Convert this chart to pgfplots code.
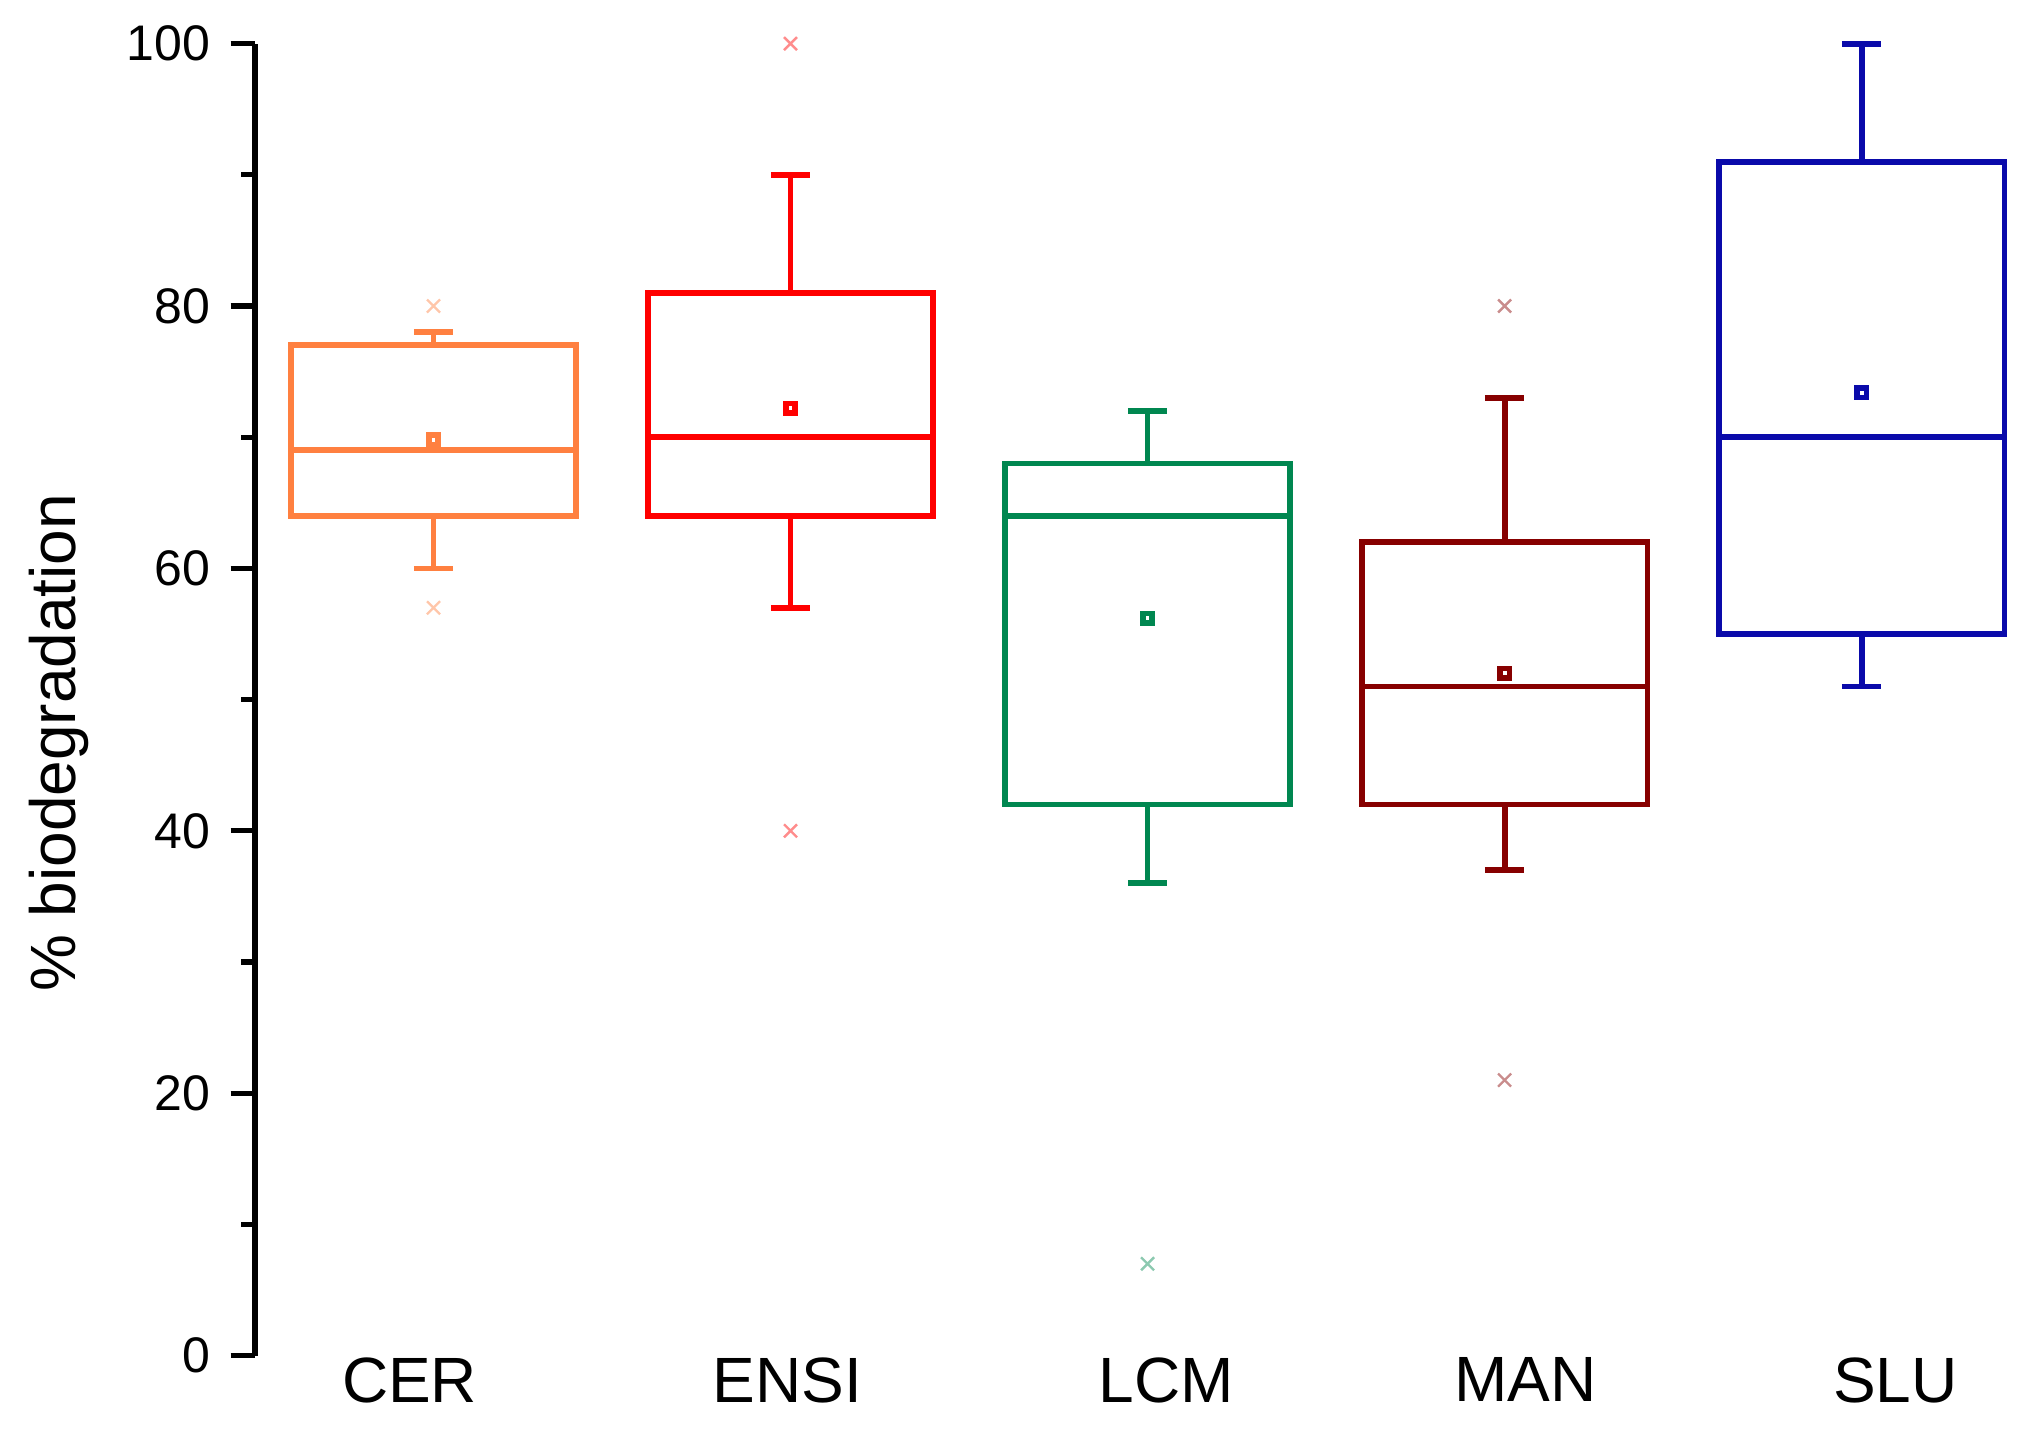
\documentclass[border=0pt]{standalone}
\usepackage{pgfplots}
\pgfplotsset{compat=1.18}
\usepgfplotslibrary{statistics}
\usepackage{fontspec}
\setmainfont{Liberation Sans}
\definecolor{cer}{RGB}{255,128,64}
\definecolor{ensi}{RGB}{255,0,0}
\definecolor{lcm}{RGB}{0,135,80}
\definecolor{man}{RGB}{135,0,0}
\definecolor{slu}{RGB}{10,10,170}
\pgfplotsset{
  mybox/.style={line width=1.45pt, mark=x, mark size=2.3pt,
    mark options={#1!45, line width=0.6pt, solid},
    boxplot/every average/.style={mark=square, mark size=1.2pt,
      /tikz/every mark/.append style={draw=#1!50, fill=none, line width=0.5pt}}},
}
\begin{document}
\begin{tikzpicture}
\useasboundingbox (-63.75pt,-21pt) rectangle (444.5pt,338.9pt);
\begin{axis}[
  scale only axis, width=444.5pt, height=328pt,
  xmin=0.5, xmax=5.48, ymin=0, ymax=100,
  clip=false,
  axis y line=left, axis x line=bottom,
  x axis line style={draw=none},
  y axis line style={-, line width=1.3pt, black},
  xtick={0.933,1.992,3.053,4.059,5.095},
  xticklabels={CER,ENSI,LCM,MAN,SLU},
  xtick style={draw=none},
  ytick={0,20,40,60,80,100},
  minor ytick={10,30,50,70,90},
  tick align=outside,
  ytick style={line width=1.3pt, black},
  major tick length=6.1pt, minor tick length=3.4pt,
  /pgf/number format/assume math mode=true,
  yticklabel style={font=\fontsize{12.5}{14}\selectfont, anchor=east, inner sep=0pt, xshift=-4.9pt},
  xticklabel style={font=\fontsize{16}{19}\selectfont, anchor=north, inner sep=0pt, yshift=5.8pt},
  ylabel={\% biodegradation},
  ylabel style={font=\fontsize{16}{19}\selectfont, at={(axis description cs:-0.1100,0.467)}, anchor=center},
  boxplot/draw direction=y,
]
\addplot[cer, mybox=cer, boxplot prepared={draw position=1, lower whisker=60, lower quartile=64, median=69, upper quartile=77, upper whisker=78, average=69.8, box extend=0.8, whisker extend=0.11}]
  table[row sep=\\, y index=0] {data\\ 80\\ 57\\};
\addplot[ensi, mybox=ensi, boxplot prepared={draw position=2, lower whisker=57, lower quartile=64, median=70, upper quartile=81, upper whisker=90, average=72.2, box extend=0.8, whisker extend=0.11}]
  table[row sep=\\, y index=0] {data\\ 100\\ 40\\};
\addplot[lcm, mybox=lcm, boxplot prepared={draw position=3, lower whisker=36, lower quartile=42, median=64, upper quartile=68, upper whisker=72, average=56.2, box extend=0.8, whisker extend=0.11}]
  table[row sep=\\, y index=0] {data\\ 7\\};
\addplot[man, mybox=man, boxplot prepared={draw position=4, lower whisker=37, lower quartile=42, median=51, upper quartile=62, upper whisker=73, average=52, box extend=0.8, whisker extend=0.11}]
  table[row sep=\\, y index=0] {data\\ 80\\ 21\\};
\addplot[slu, mybox=slu, boxplot prepared={draw position=5, lower whisker=51, lower quartile=55, median=70, upper quartile=91, upper whisker=100, average=73.4, box extend=0.8, whisker extend=0.11}]
  coordinates {};
\end{axis}
\end{tikzpicture}
\end{document}
